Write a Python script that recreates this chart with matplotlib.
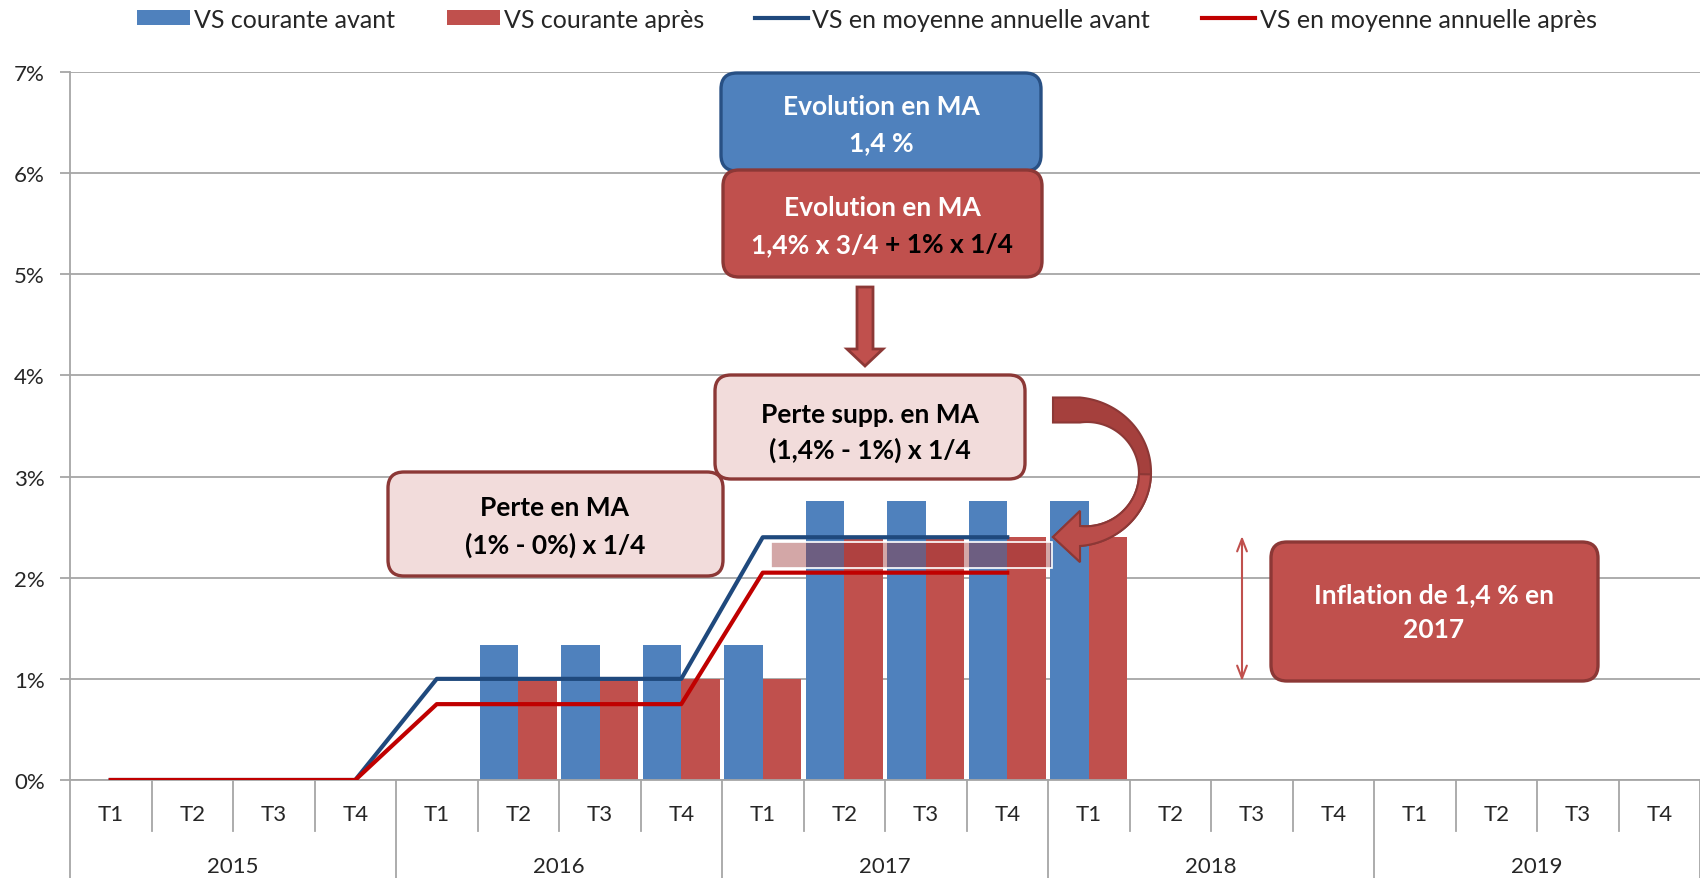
import numpy as np
import matplotlib
matplotlib.use("Agg")
import matplotlib.pyplot as plt
from matplotlib.patches import FancyBboxPatch, FancyArrow, Polygon, Rectangle
from matplotlib.offsetbox import TextArea, HPacker, AnnotationBbox
import matplotlib.transforms as mtransforms

plt.rcParams['font.family'] = ['Lato', 'DejaVu Sans']

# data (values in %)
quarters = ['T1', 'T2', 'T3', 'T4'] * 5
years = ['2015', '2016', '2017', '2018', '2019']
vs_avant = [0, 0, 0, 0, 0, 1.33, 1.33, 1.33, 1.33, 2.76, 2.76, 2.76, 2.76, 0, 0, 0, 0, 0, 0, 0]
vs_apres = [0, 0, 0, 0, 0, 1.0, 1.0, 1.0, 1.0, 2.4, 2.4, 2.4, 2.4, 0, 0, 0, 0, 0, 0, 0]
moy_avant = [0, 0, 0, 0, 1.0, 1.0, 1.0, 1.0, 2.4, 2.4, 2.4, 2.4]
moy_apres = [0, 0, 0, 0, 0.75, 0.75, 0.75, 0.75, 2.05, 2.05, 2.05, 2.05]
yticks = [0, 1, 2, 3, 4, 5, 6, 7]

BLUE = '#4F81BD'
RED = '#C0504D'
DBLUE = '#1F497D'
DRED = '#C00000'
EDGE_RED = '#8C3836'
GRID = '#A6A6A6'
TXT = '#262626'

W, H = 1700, 879
fig = plt.figure(figsize=(W / 100, H / 100), dpi=100)
# main axes: left 70px, bottom at 781px, top at 73px
ax = fig.add_axes([70 / W, (H - 781) / H, (W - 70) / W, 708 / H])

x = np.arange(len(quarters))
bw = 0.475
b1 = ax.bar(x - bw / 2, vs_avant, width=bw, color=BLUE, zorder=2, label='VS courante avant')
b2 = ax.bar(x + bw / 2, vs_apres, width=bw, color=RED, zorder=2, label='VS courante après')
l1, = ax.plot(np.arange(len(moy_avant)), moy_avant, color=DBLUE, lw=3, zorder=3,
              label='VS en moyenne annuelle avant')
l2, = ax.plot(np.arange(len(moy_apres)), moy_apres, color=DRED, lw=3, zorder=3,
              label='VS en moyenne annuelle après')

ax.set_xlim(-0.5, len(quarters) - 0.5)
ax.set_ylim(0, 7)
ax.set_yticks(yticks)
ax.set_yticklabels([f'{v}%' for v in yticks], fontsize=16, color=TXT)
ax.yaxis.grid(True, color=GRID, lw=1.3, zorder=0)
ax.set_axisbelow(True)
ax.tick_params(axis='y', length=7, width=1.3, color=GRID, pad=11)
ax.tick_params(axis='x', length=0, labelbottom=False)
for s in ['top', 'right']:
    ax.spines[s].set_visible(False)
for s in ['left', 'bottom']:
    ax.spines[s].set_color(GRID)
    ax.spines[s].set_linewidth(1.3)

# two-level category axis
trans = mtransforms.blended_transform_factory(ax.transData, ax.transAxes)
for i, q in enumerate(quarters):
    ax.text(i, -0.048, q, transform=trans, ha='center', va='center', fontsize=16, color=TXT)
for j, yr in enumerate(years):
    ax.text(j * 4 + 1.5, -0.121, yr, transform=trans, ha='center', va='center', fontsize=16, color=TXT)
for k in range(len(quarters) + 1):
    y_end = -0.15 if k % 4 == 0 else -0.072
    ax.plot([k - 0.5, k - 0.5], [0, y_end], transform=trans, color=GRID, lw=1.3, clip_on=False)

# legend, one block per entry
leg_pos = [137, 447, 755, 1202]
for h, px in zip([b1, b2, l1, l2], leg_pos):
    fig.legend(handles=[h], loc='center left', bbox_to_anchor=(px / W, 1 - 20 / H),
               frameon=False, fontsize=18, handlelength=2.1, handleheight=0.55,
               handletextpad=0.2, borderpad=0, borderaxespad=0, labelcolor=TXT)

# overlay in pixel coordinates for the annotations
ov = fig.add_axes([0, 0, 1, 1])
ov.set_xlim(0, W)
ov.set_ylim(H, 0)
ov.axis('off')
ov.patch.set_alpha(0)


def box(x0, y0, x1, y1, fc, ec, z=5):
    p = FancyBboxPatch((x0, y0), x1 - x0, y1 - y0, boxstyle='round,pad=0,rounding_size=16',
                       fc=fc, ec=ec, lw=2.4, zorder=z)
    ov.add_patch(p)


bold = dict(fontsize=19, fontweight='bold', ha='center', va='center', zorder=8)

box(721, 74, 1041, 172, BLUE, '#285084')
ov.text(881, 107, 'Evolution en MA', color='white', **bold)
ov.text(881, 143, '1,4 %', color='white', **bold)

box(723, 171, 1042, 278, RED, EDGE_RED, z=6)
ov.text(882, 208, 'Evolution en MA', color='white', **bold)
tp = dict(fontsize=19, fontweight='bold')
line2 = HPacker(children=[TextArea('1,4% x 3/4', textprops=dict(color='white', **tp)),
                          TextArea('+ 1% x 1/4', textprops=dict(color='black', **tp))],
                align='baseline', pad=0, sep=5)
ab = AnnotationBbox(line2, (882, 245), xycoords='data', frameon=False, box_alignment=(0.5, 0.5), pad=0)
ab.set_zorder(8)
ov.add_artist(ab)

ov.add_patch(FancyArrow(865, 288, 0, 79, width=16, head_width=36, head_length=17,
                        length_includes_head=True, fc=RED, ec=EDGE_RED, lw=2, zorder=5))

box(715, 376, 1025, 480, '#F2DCDB', EDGE_RED)
ov.text(870, 415, 'Perte supp. en MA', color='black', **bold)
ov.text(870, 450, '(1,4% - 1%) x 1/4', color='black', **bold)

box(388, 473, 723, 577, '#F2DCDB', EDGE_RED)
ov.text(555, 508, 'Perte en MA', color='black', **bold)
ov.text(555, 545, '(1% - 0%) x 1/4', color='black', **bold)

box(1271, 543, 1598, 682, RED, EDGE_RED)
ov.text(1434, 595, 'Inflation de 1,4 % en', color='white', **bold)
ov.text(1434, 630, '2017', color='white', **bold)

# translucent band over the 2017 bars
ov.add_patch(Rectangle((771, 543), 281, 26, fc='#982E2E', alpha=0.42, ec='none', zorder=4))
ov.add_patch(Rectangle((771, 543), 281, 26, fc='none', ec='white', lw=1.2, zorder=4))

# double arrow for inflation
ov.annotate('', xy=(1242, 537), xytext=(1242, 682),
            arrowprops=dict(arrowstyle='<->,head_length=0.9,head_width=0.35', color=RED, lw=1.5,
                            shrinkA=0, shrinkB=0), zorder=5)

# curved arrow: half-ellipse band with a head pointing left
cx, cy, rx, ry = 1080, 474, 65, 63
t = np.linspace(0, 1, 80)
px = cx + rx * np.sin(np.pi * t)
py = cy - ry * np.cos(np.pi * t)
dx = rx * np.cos(np.pi * t)
dy = ry * np.sin(np.pi * t)
nrm = np.hypot(dx, dy)
nx, ny = dy / nrm, -dx / nrm          # outward normal
wid = 25 - 47 * t + 42 * t ** 2
outer = np.column_stack([px + nx * wid / 2, py + ny * wid / 2])
inner = np.column_stack([px - nx * wid / 2, py - ny * wid / 2])
head = np.array([[cx, cy + ry + 26], [cx - 27, cy + ry + 1], [cx, cy + ry - 25]])
tail_out = np.array([[cx - 27, cy - ry - 12.5]])
tail_in = np.array([[cx - 27, cy - ry + 12.5]])
pts = np.vstack([tail_out, outer, head, inner[::-1], tail_in])
ov.add_patch(Polygon(pts, closed=True, fc='#A5403D', ec=EDGE_RED, lw=1.5, zorder=6))
# lighter lower half for a bit of relief
lower = t >= 0.5
pts2 = np.vstack([outer[lower], head, inner[lower][::-1]])
ov.add_patch(Polygon(pts2, closed=True, fc='#BA4D4A', ec=EDGE_RED, lw=1.5, zorder=6))

fig.savefig('out.png', dpi=100)
